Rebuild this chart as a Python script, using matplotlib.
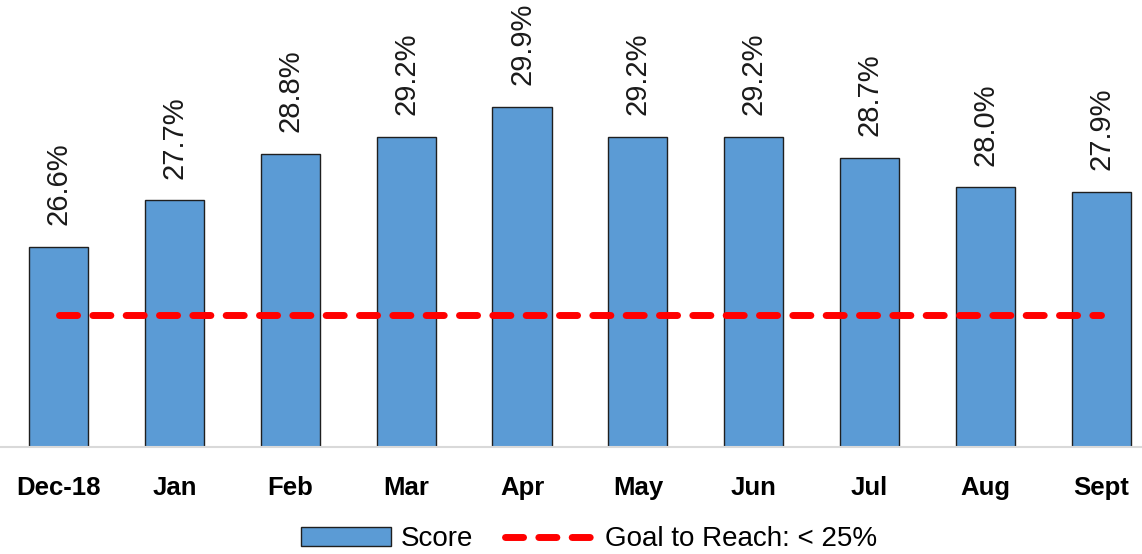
import matplotlib.pyplot as plt

months = ['Dec-18', 'Jan', 'Feb', 'Mar', 'Apr', 'May', 'Jun', 'Jul', 'Aug', 'Sept']
score = [26.6, 27.7, 28.8, 29.2, 29.9, 29.2, 29.2, 28.7, 28.0, 27.9]
goal = [25.0] * len(months)

plt.rcParams['font.family'] = ['Liberation Sans', 'DejaVu Sans']
plt.rcParams['lines.scale_dashes'] = False

fig = plt.figure(figsize=(11.42, 5.54), dpi=100)
ax = fig.add_axes([0, 0.193, 1, 0.807])

x = range(len(months))
bars = ax.bar(x, score, width=0.51, color='#5B9BD5', edgecolor='#1f1f1f', linewidth=1.0,
              label='Score', zorder=2)
line, = ax.plot(x, goal, color='#FF0000', linewidth=5, dashes=(13, 11),
                dash_capstyle='round', label='Goal to Reach: < 25%', zorder=3)

# value labels, rotated
for i, v in enumerate(score):
    ax.annotate('%.1f%%' % v, (i, v), xytext=(0, 15.5), textcoords='offset points',
                rotation=90, ha='center', va='bottom', fontsize=21, color='#1a1a1a',
                annotation_clip=False)

ax.set_xlim(-0.505, 9.35)
ax.set_ylim(21.88, 32.42)

ax.set_xticks(list(x))
ax.set_xticklabels(months, fontsize=18.5, fontweight='bold')
ax.tick_params(axis='x', length=0, pad=21)
ax.set_yticks([])

for s in ['top', 'right', 'left']:
    ax.spines[s].set_visible(False)
ax.spines['bottom'].set_color('#d9d9d9')
ax.spines['bottom'].set_linewidth(1.5)

fig.legend([bars, line], ['Score', 'Goal to Reach: < 25%'],
           loc='center', bbox_to_anchor=(0.516, 0.027), ncol=2, frameon=False,
           fontsize=20, handlelength=3.25, handletextpad=0.35, columnspacing=1.15,
           handleheight=0.65)

plt.savefig('out.png', dpi=100)
